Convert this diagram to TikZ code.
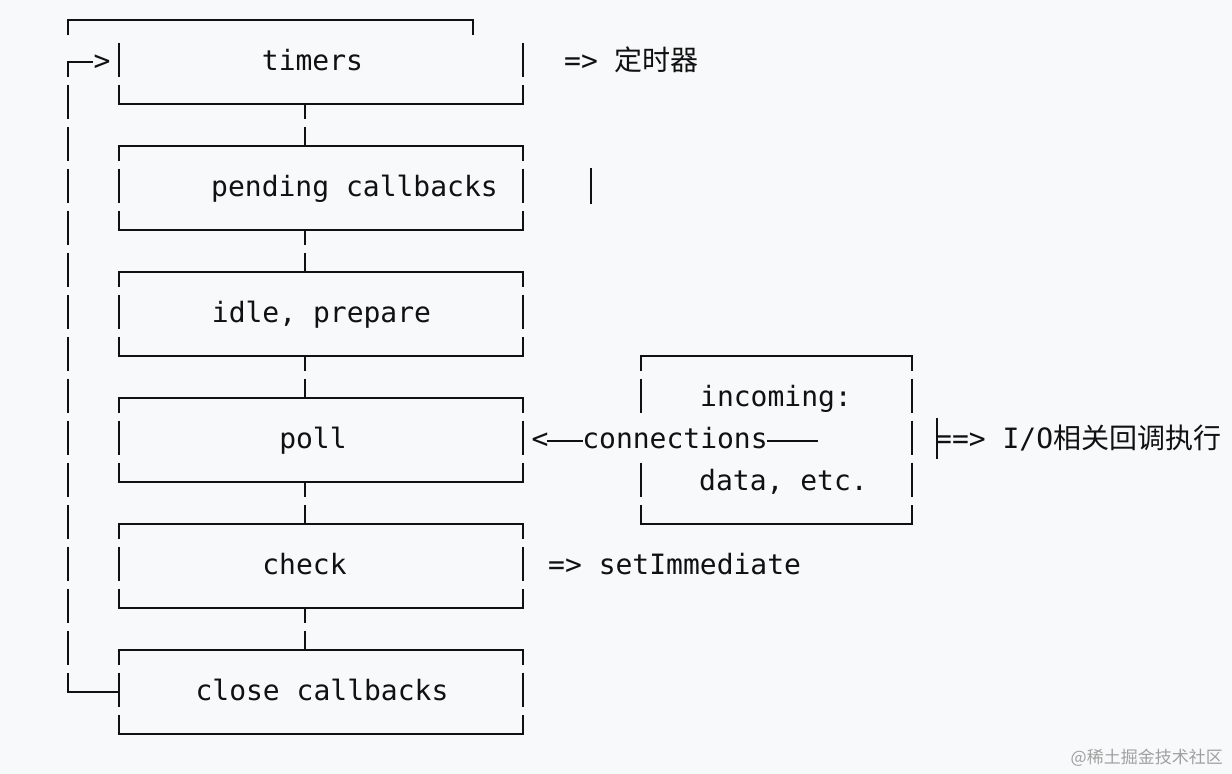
\documentclass[tikz,border=0pt]{standalone}
\usepackage{fontspec}
\setmainfont{DejaVu Sans Mono}
\newfontfamily\monofont{DejaVu Sans Mono}
\newfontfamily\cjkfont{Noto Sans CJK SC}
\definecolor{bgcol}{RGB}{248,249,250}
\definecolor{inkcol}{RGB}{17,17,17}
\definecolor{wmcol}{RGB}{160,160,160}
\tikzset{
  ln/.style={line width=2pt, draw=inkcol},
  mono/.style={font=\monofont\fontsize{28}{34}\selectfont, text=inkcol, inner sep=0pt, anchor=base},
  monow/.style={mono, anchor=base west},
}
\newcommand\cjkbig{\cjkfont\fontsize{28}{34}\selectfont}
\begin{document}
\begin{tikzpicture}[x=1pt,y=-1pt]
\fill[bgcol] (0,0) rectangle (1232,774);
\useasboundingbox (0,0) rectangle (1232,774);

% ---- outer loop top line (row 0) ----
\draw[ln] (68,35) -- (68,20) -- (473,20) -- (473,35);
% row 1: corner and arrow into timers
\draw[ln] (68,77) -- (68,62) -- (93,62);
\node[mono] (gt) at (102,70) {>};
% left loop column
\foreach \k in {2,...,15}{
  \pgfmathsetmacro\yy{20+42*\k}
  \draw[ln] (68,\yy-19.5) -- (68,\yy+15);
}
\draw[ln] (68,672.5) -- (68,692) -- (119,692);

% ---- timers box (rows 1-2) ----
\draw[ln] (119,42.5) -- (119,77);
\draw[ln] (523,42.5) -- (523,77);
\draw[ln] (119,84.5) -- (119,104) -- (523,104) -- (523,84.5);
\draw[ln] (305,104) -- (305,119);

% ---- other boxes ----
\foreach \m in {1,...,5}{
  \pgfmathsetmacro\ya{20+126*\m}
  \pgfmathsetmacro\yb{\ya+42}
  \pgfmathsetmacro\yc{\ya+84}
  \draw[ln] (119,\ya+15) -- (119,\ya) -- (523,\ya) -- (523,\ya+15);
  \draw[ln] (305,\ya-19.5) -- (305,\ya);
  \draw[ln] (119,\yb-19.5) -- (119,\yb+15);
  \draw[ln] (523,\yb-19.5) -- (523,\yb+15);
  \draw[ln] (119,\yc-19.5) -- (119,\yc) -- (523,\yc) -- (523,\yc-19.5);
}
\foreach \m in {1,...,4}{
  \pgfmathsetmacro\yc{104+126*\m}
  \draw[ln] (305,\yc) -- (305,\yc+15);
}

% lone bar right of pending callbacks
\draw[inkcol, line width=2.6pt] (591,168) -- (591,204);

% ---- incoming box (rows 8-12) ----
\draw[ln] (641,371) -- (641,356) -- (912,356) -- (912,371);
\draw[ln] (641,378.5) -- (641,413);
\draw[ln] (912,378.5) -- (912,413);
\draw[ln] (912,420.5) -- (912,455);
\draw[ln] (641,462.5) -- (641,497);
\draw[ln] (912,462.5) -- (912,497);
\draw[ln] (641,504.5) -- (641,524) -- (912,524) -- (912,504.5);

% ---- texts in boxes ----
\node[mono] (timers)  at (312.5,70)  {timers};
\node[mono] (pending) at (354.5,196) {pending callbacks};
\node[mono] (idle)    at (321.5,322) {idle, prepare};
\node[mono] (poll)    at (313,448)   {poll};
\node[mono] (check)   at (304.5,574) {check};
\node[mono] (close)   at (322,700)   {close callbacks};
\node[mono] (incoming) at (776,406)  {incoming:};
\node[mono] (data)     at (783.5,490) {data, etc.};

% ---- connections line ----
\node[mono] (lt) at (540,448) {<};
\node[mono] (conn) at (675,448) {connections};
\coordinate (c1) at (547,441);
\coordinate (c2) at (583,441);
\coordinate (c3) at (767,441);
\coordinate (c4) at (818,441);
\draw[ln] (c1) -- (c2);
\draw[ln] (c3) -- (c4);

% ---- annotations ----
\node[monow] (ann1) at (564,70) {=> {\cjkbig 定时器}};
\node[monow] (ann2) at (548,574) {=> setImmediate};
\draw[ln] (937,418) -- (937,459);
\node[monow] (ann3) at (935,448) {==> I/O{\cjkbig 相关回调执行}};

% ---- watermark ----
\node[font=\cjkfont\fontsize{17}{20}\selectfont, text=wmcol, inner sep=0pt, anchor=base east] (wm) at (1223,763) {@稀土掘金技术社区};
\end{tikzpicture}
\end{document}
